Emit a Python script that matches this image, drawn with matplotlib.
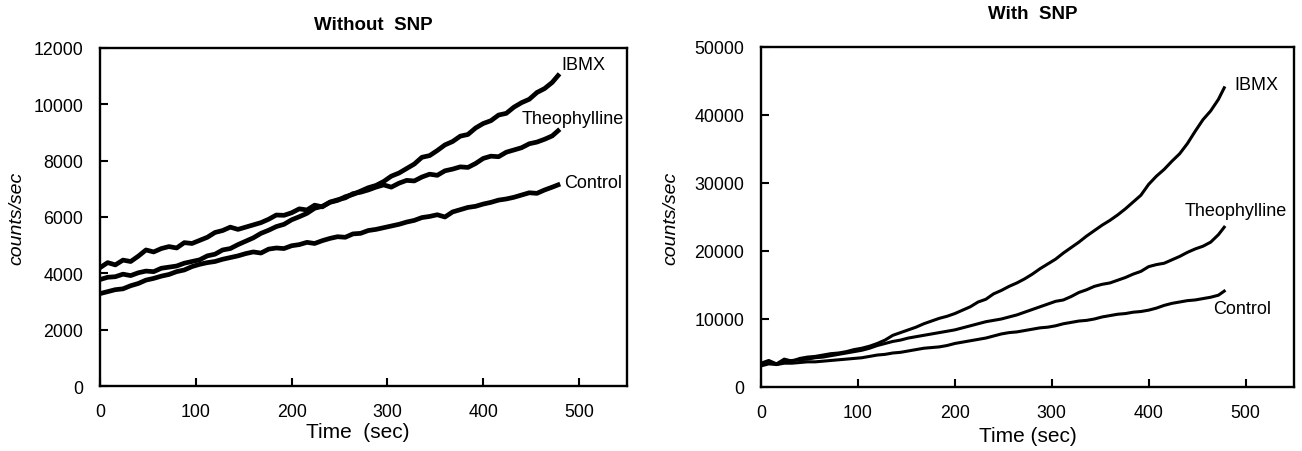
# cAMP counts with / without SNP
import matplotlib
matplotlib.use('Agg')
import matplotlib.pyplot as plt

plt.rcParams['font.family'] = ['Liberation Sans', 'DejaVu Sans']

time = list(range(0, 480, 8)) + [478]

# without SNP
ibmx_a = [3780, 3860, 3880, 3970, 3920, 4020, 4080, 4060, 4180, 4220,
          4260, 4360, 4420, 4480, 4620, 4680, 4830, 4880, 5020, 5140,
          5260, 5420, 5530, 5660, 5740, 5900, 6010, 6130, 6310, 6380,
          6520, 6590, 6720, 6800, 6920, 7040, 7120, 7260, 7450, 7560,
          7720, 7880, 8120, 8180, 8360, 8560, 8680, 8870, 8930, 9160,
          9320, 9420, 9620, 9680, 9900, 10060, 10180, 10420, 10560, 10780,
          11020]
theo_a = [4200, 4380, 4300, 4470, 4420, 4610, 4830, 4760, 4880, 4950,
          4900, 5090, 5060, 5170, 5280, 5450, 5520, 5640, 5560, 5640,
          5720, 5800, 5920, 6070, 6060, 6150, 6290, 6250, 6420, 6360,
          6530, 6610, 6680, 6830, 6880, 6960, 7060, 7140, 7060, 7200,
          7300, 7280, 7420, 7520, 7480, 7640, 7700, 7780, 7760, 7900,
          8080, 8160, 8140, 8300, 8380, 8460, 8600, 8660, 8760, 8880,
          9060]
ctrl_a = [3280, 3350, 3420, 3450, 3560, 3640, 3760, 3820, 3900, 3960,
          4060, 4120, 4240, 4320, 4380, 4420, 4500, 4560, 4620, 4700,
          4760, 4720, 4860, 4900, 4880, 4980, 5020, 5100, 5060, 5160,
          5240, 5300, 5280, 5400, 5420, 5520, 5560, 5620, 5680, 5740,
          5820, 5880, 5980, 6020, 6080, 6000, 6180, 6260, 6340, 6380,
          6460, 6520, 6600, 6640, 6700, 6780, 6860, 6840, 6960, 7060,
          7140]

# with SNP
ibmx_b = [3500, 3900, 3400, 4100, 3800, 4200, 4400, 4500, 4700, 4900,
          5000, 5200, 5500, 5700, 6000, 6400, 6900, 7600, 8000, 8400,
          8800, 9300, 9700, 10100, 10400, 10800, 11300, 11800, 12500, 12900,
          13700, 14200, 14800, 15300, 15900, 16600, 17400, 18100, 18800, 19700,
          20500, 21300, 22200, 23000, 23800, 24500, 25300, 26200, 27200, 28200,
          29800, 31000, 32000, 33200, 34300, 35800, 37600, 39300, 40600, 42300,
          44000]
theo_b = [3400, 3800, 3300, 3700, 3900, 4000, 4100, 4300, 4400, 4600,
          4800, 5000, 5200, 5400, 5700, 6100, 6400, 6700, 6900, 7200,
          7400, 7600, 7800, 8000, 8200, 8400, 8700, 9000, 9300, 9600,
          9800, 10000, 10300, 10600, 11000, 11400, 11800, 12200, 12600, 12800,
          13300, 13900, 14300, 14800, 15100, 15300, 15700, 16100, 16600, 17000,
          17700, 18000, 18200, 18700, 19200, 19800, 20300, 20700, 21300, 22400,
          23500]
ctrl_b = [3100, 3400, 3300, 3500, 3500, 3600, 3700, 3700, 3800, 3900,
          4000, 4100, 4200, 4300, 4500, 4700, 4800, 5000, 5100, 5300,
          5500, 5700, 5800, 5900, 6100, 6400, 6600, 6800, 7000, 7200,
          7500, 7800, 8000, 8100, 8300, 8500, 8700, 8800, 9000, 9300,
          9500, 9700, 9800, 10000, 10300, 10500, 10700, 10800, 11000, 11100,
          11300, 11600, 12000, 12300, 12500, 12700, 12800, 13000, 13200, 13500,
          14100]

W, H = 1302, 452
fig = plt.figure(figsize=(W / 100, H / 100), dpi=100)
ax1 = fig.add_axes([100/W, 1-387/H, 527/W, 338/H])
ax2 = fig.add_axes([761/W, 1-388/H, 533/W, 340/H])


def style(ax, ymax, ystep, xlabel, title, pad, tx, xl, yl):
    ax.set_xlim(0, 550)
    ax.set_ylim(0, ymax)
    ax.set_xticks(range(0, 501, 100))
    ax.set_yticks(range(0, ymax + 1, ystep))
    ax.tick_params(direction='in', length=6, width=1.5, labelsize=12.8, pad=12)
    for s in ax.spines.values():
        s.set_linewidth(1.7)
    ax.set_xlabel(xlabel, fontsize=15, va='center')
    ax.xaxis.set_label_coords(*xl)
    ax.set_ylabel('counts/sec', fontsize=14, style='italic', va='center')
    ax.yaxis.set_label_coords(*yl)
    t = ax.set_title(title, fontsize=13.5, fontweight='bold', pad=pad)
    t.set_x(tx)


ax1.plot(time, ibmx_a, color='black', lw=3.4)
ax1.plot(time, theo_a, color='black', lw=3.4)
ax1.plot(time, ctrl_a, color='black', lw=3.4)
style(ax1, 12000, 2000, 'Time  (sec)', 'Without  SNP', 14, 0.518,
      (0.49, -0.136), (-0.157, 0.5))
ax1.text(527, 11430, 'IBMX', fontsize=13, va='center', ha='right')
ax1.text(547, 9500, 'Theophylline', fontsize=13, va='center', ha='right')
ax1.text(545, 7220, 'Control', fontsize=13, va='center', ha='right')

ax2.plot(time, ibmx_b, color='black', lw=2.2)
ax2.plot(time, theo_b, color='black', lw=2.2)
ax2.plot(time, ctrl_b, color='black', lw=2.2)
style(ax2, 50000, 10000, 'Time (sec)', 'With  SNP', 21, 0.51,
      (0.50, -0.144), (-0.169, 0.5))
ax2.text(534, 44460, 'IBMX', fontsize=13, va='center', ha='right')
ax2.text(543, 26000, 'Theophylline', fontsize=13, va='center', ha='right')
ax2.text(526, 11480, 'Control', fontsize=13, va='center', ha='right')

fig.savefig('out.png', dpi=100)
